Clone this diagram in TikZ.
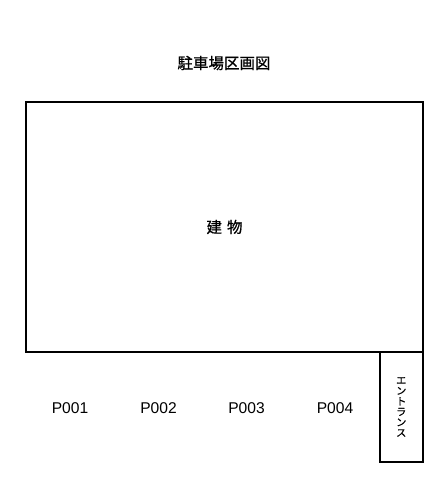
\documentclass[tikz,border=0pt]{standalone}
\usepackage{fontspec}
\setmainfont{Liberation Sans}
\newfontfamily\jpfont[FakeBold=0.8]{Noto Sans CJK JP}
\usepackage{tikz}
\usetikzlibrary{positioning}
\tikzstyle{area} = [rectangle, draw, line width = 2pt, inner sep = 0pt]
\tikzstyle{slot} = [font = \fontsize{15.6}{18}\selectfont]
\tikzstyle{line} = [draw, line width = 2pt]

\begin{document}
\begin{tikzpicture}[x=1pt, y=-1pt]
			\useasboundingbox (0,0) rectangle (446,497);
			\node [font = \jpfont\fontsize{15.5}{18}\selectfont] (title) at (224, 63) {駐車場区画図};
			\node [area, minimum width = 397pt, minimum height = 250pt, font = \jpfont\fontsize{15.5}{18}\selectfont] (bldg) at (224.5, 227) {建\hspace{5pt}物};
			\node [area, minimum width = 43.5pt, minimum height = 110pt, align = center, font = \jpfont\fontsize{10.2}{10.5}\selectfont] (entr) at (401.25, 407) {エ\\ン\\ト\\ラ\\ン\\ス};
			\node [slot] (p1) at (70, 408) {P001};
			\node [slot] (p2) at (158.5, 408) {P002};
			\node [slot] (p3) at (246.5, 408) {P003};
			\node [slot] (p4) at (335, 408) {P004};
		\end{tikzpicture}
\end{document}
